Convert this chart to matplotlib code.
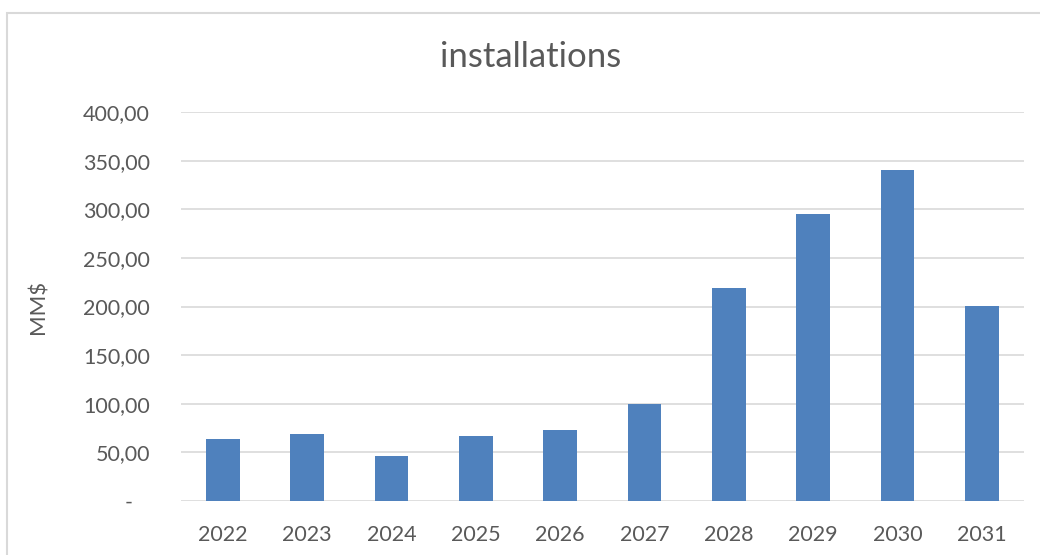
import matplotlib
matplotlib.use('Agg')
import matplotlib.pyplot as plt
from matplotlib.patches import Rectangle
from matplotlib.ticker import FuncFormatter, MultipleLocator

years = ['2022', '2023', '2024', '2025', '2026', '2027', '2028', '2029', '2030', '2031']
installations = [64.2, 68.6, 46.0, 66.6, 73.4, 99.5, 219.0, 295.2, 340.4, 200.3]

text_color = '#595959'
grid_color = '#d9d9d9'
bar_color = '#4f81bd'

plt.rcParams['font.family'] = ['Lato', 'DejaVu Sans']

fig = plt.figure(figsize=(10.4, 5.55), dpi=100)
ax = fig.add_axes([180.5 / 1040, 1 - 501 / 555, (1024 - 180.5) / 1040, (501 - 112) / 555])

# light chart frame around everything
fig.patches.append(Rectangle((7 / 1040, -0.1), 1.1, 1 - 13 / 555 + 0.1,
                             transform=fig.transFigure, fill=False,
                             edgecolor=grid_color, linewidth=1.5))

x = range(len(years))
ax.bar(x, installations, width=0.4, color=bar_color, zorder=3)

ax.set_xlim(-0.5, len(years) - 0.5)
ax.set_ylim(0, 400)
ax.yaxis.set_major_locator(MultipleLocator(50))


def fmt(v, pos):
    if v == 0:
        return '-   '
    return f'{v:.2f}'.replace('.', ',')


ax.yaxis.set_major_formatter(FuncFormatter(fmt))
ax.set_xticks(list(x))
ax.set_xticklabels(years)
ax.grid(axis='y', color=grid_color, linewidth=1.2, zorder=0)

for s in ax.spines.values():
    s.set_visible(False)
ax.tick_params(length=0, labelsize=15.5, labelcolor=text_color)
ax.tick_params(axis='y', pad=22)
ax.tick_params(axis='x', pad=17)

ax.set_ylabel('MM$', fontsize=16, color=text_color)
ax.yaxis.set_label_coords(-132 / 843.5, 0.5)
fig.text(531 / 1040, 1 - 57 / 555, 'installations', fontsize=25, color=text_color,
         ha='center', va='center')

fig.savefig('out.png', dpi=100)
